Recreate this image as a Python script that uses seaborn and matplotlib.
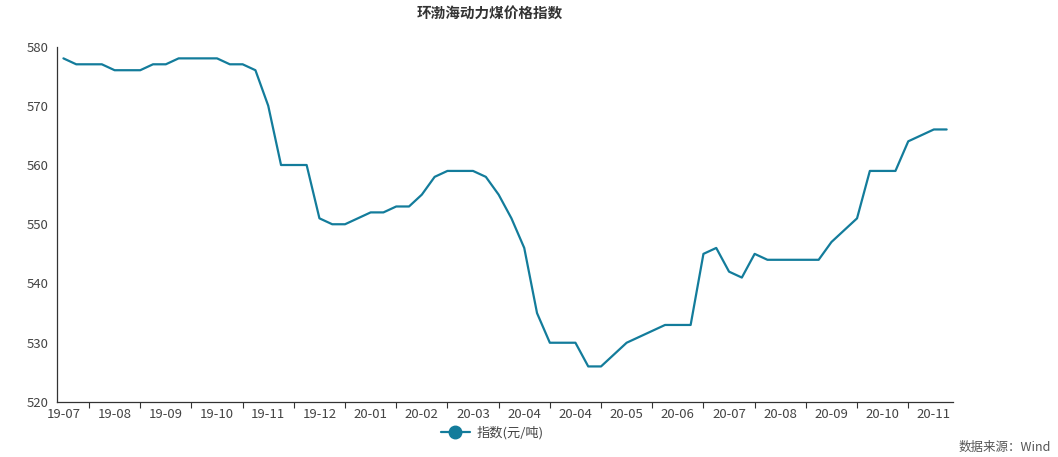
import matplotlib
matplotlib.use("Agg")
import numpy as np
import pandas as pd
import matplotlib.pyplot as plt
import seaborn as sns
from matplotlib.lines import Line2D

# 环渤海动力煤价格指数 (weekly)
values = [578, 577, 577, 577, 576, 576, 576, 577, 577, 578,
          578, 578, 578, 577, 577, 576, 570, 560, 560, 560,
          551, 550, 550, 551, 552, 552, 553, 553, 555, 558,
          559, 559, 559, 558, 555, 551, 546, 535, 530, 530,
          530, 526, 526, 528, 530, 531, 532, 533, 533, 533,
          545, 546, 542, 541, 545, 544, 544, 544, 544, 544,
          547, 549, 551, 559, 559, 559, 564, 565, 566, 566]
tick_labels = ["19-07", "19-08", "19-09", "19-10", "19-11", "19-12",
               "20-01", "20-02", "20-03", "20-04", "20-04", "20-05",
               "20-06", "20-07", "20-08", "20-09", "20-10", "20-11"]
y_ticks = [520, 530, 540, 550, 560, 570, 580]

df = pd.DataFrame({"idx": np.arange(len(values)), "value": values})

sns.set_theme(style="white")
plt.rcParams['font.family'] = ['Noto Sans CJK SC', 'DejaVu Sans']

line_color = "#137c9b"
text_color = "#444444"

fig = plt.figure(figsize=(10.58, 4.57), dpi=100)
ax = fig.add_axes([0.0539, 0.1204, 0.8469, 0.7778])
sns.lineplot(data=df, x="idx", y="value", ax=ax, color=line_color, linewidth=1.6)

ax.set_xlim(-0.5, len(values) - 0.5)
ax.set_ylim(520, 580)
ax.set_yticks(y_ticks)
ax.set_xticks(np.arange(0, len(values), 4))
ax.set_xticklabels(tick_labels)
ax.set_xticks(np.arange(2, len(values) - 2, 4), minor=True)
ax.tick_params(axis="x", which="major", length=0, pad=4, labelsize=9.5, colors=text_color)
ax.tick_params(axis="x", which="minor", length=4, width=0.8, color="#333333", bottom=True)
ax.tick_params(axis="y", length=4, width=0.8, pad=2, labelsize=9.5, colors=text_color)
ax.tick_params(axis="y", color="#333333")
ax.set_xlabel("")
ax.set_ylabel("")

for side in ["top", "right"]:
    ax.spines[side].set_visible(False)
for side in ["left", "bottom"]:
    ax.spines[side].set_color("#333333")
    ax.spines[side].set_linewidth(0.9)

fig.text(0.4627, 0.972, "环渤海动力煤价格指数", ha="center", va="center",
         fontsize=10.5, fontweight="bold", color="#333333")

handle = Line2D([0], [0], color=line_color, linewidth=1.6, marker="o",
                markersize=9, markerfacecolor=line_color, markeredgecolor=line_color)
fig.legend([handle], ["指数(元/吨)"], loc="center", bbox_to_anchor=(0.465, 0.052),
           frameon=False, fontsize=9.5, handlelength=2.2, handletextpad=0.5,
           labelcolor=text_color)

fig.text(0.993, 0.022, "数据来源：Wind", ha="right", va="center",
         fontsize=9, color="#555555")

fig.savefig("out.png", dpi=100)
